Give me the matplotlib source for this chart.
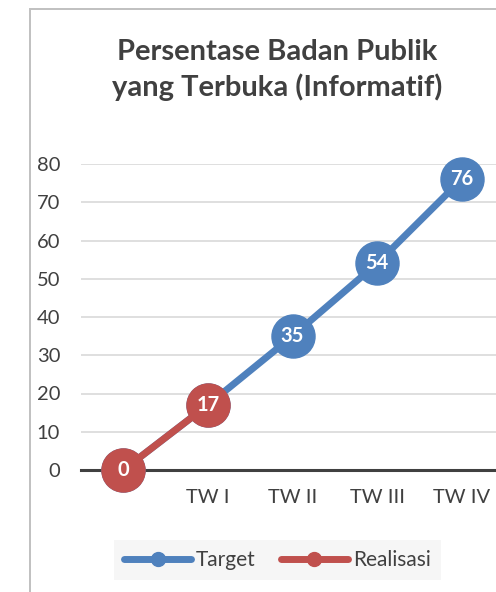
import numpy as np
import matplotlib
matplotlib.use("Agg")
import matplotlib.pyplot as plt
from matplotlib.patches import Rectangle
from matplotlib.lines import Line2D

plt.rcParams['font.family'] = ['Lato', 'DejaVu Sans']

categories = ["", "TW I", "TW II", "TW III", "TW IV"]
target = [0, 17, 35, 54, 76]
realisasi = [0, 17, np.nan, np.nan, np.nan]
y_ticks = [0, 10, 20, 30, 40, 50, 60, 70, 80]

BLUE = "#4f81bd"
RED = "#c0504d"
TEXT = "#404040"

W, H = 496, 592
fig = plt.figure(figsize=(W / 100, H / 100), dpi=100)

# chart frame (extends past the right and bottom edges)
fig.patches.append(Rectangle((30 / W, -0.1), 1.2, 1 - 9 / H + 0.1,
                             transform=fig.transFigure, fill=False,
                             edgecolor="#c0c0c0", linewidth=1.4))

ax = fig.add_axes([81 / W, 1 - 470 / H, (504 - 81) / W, (470 - 164) / H])
x = np.arange(len(categories))

ax.set_xlim(-0.5, len(categories) - 0.5)
ax.set_ylim(0, 80)
ax.set_yticks(y_ticks)
ax.set_xticks(x)
ax.set_xticklabels(categories)
for s in ax.spines.values():
    s.set_visible(False)
ax.grid(axis="y", color="#d9d9d9", linewidth=1.2)
ax.set_axisbelow(True)
ax.axhline(0, color="#404040", linewidth=2.2, zorder=1, clip_on=False)
ax.tick_params(axis="both", length=0, labelsize=14.5, colors=TEXT)
ax.tick_params(axis="y", pad=15)
ax.tick_params(axis="x", pad=14)

ms = 31
ax.plot(x, target, color=BLUE, linewidth=5, marker="o", markersize=ms,
        solid_capstyle="round", zorder=2, clip_on=False)
for xi, v in zip(x, target):
    ax.text(xi, v, f"{v}", ha="center", va="center", color="white",
            fontsize=14.5, fontweight="bold", zorder=3)

ax.plot(x, realisasi, color=RED, linewidth=5, marker="o", markersize=ms,
        solid_capstyle="round", zorder=4, clip_on=False)
for xi, v in zip(x, realisasi):
    if not np.isnan(v):
        ax.text(xi, v, f"{v:g}", ha="center", va="center", color="white",
                fontsize=14.5, fontweight="bold", zorder=5)

fig.text(277 / W, 1 - 70 / H, "Persentase Badan Publik\nyang Terbuka (Informatif)",
         ha="center", va="center", fontsize=21, fontweight="bold",
         color=TEXT, linespacing=1.36)

handles = [Line2D([], [], color=BLUE, linewidth=5, marker="o", markersize=10,
                  solid_capstyle="round"),
           Line2D([], [], color=RED, linewidth=5, marker="o", markersize=10,
                  solid_capstyle="round")]
leg = fig.legend(handles, ["Target", "Realisasi"], loc="center",
                 bbox_to_anchor=(277.5 / W, 1 - 560 / H), ncol=2,
                 frameon=True, fancybox=False, fontsize=15,
                 handlelength=3.2, handletextpad=0.25, columnspacing=1.2,
                 borderpad=0.5, borderaxespad=0)
leg.get_frame().set_facecolor("#f4f4f4")
leg.get_frame().set_edgecolor("none")
for t in leg.get_texts():
    t.set_color(TEXT)

fig.savefig("out.png", dpi=100)
